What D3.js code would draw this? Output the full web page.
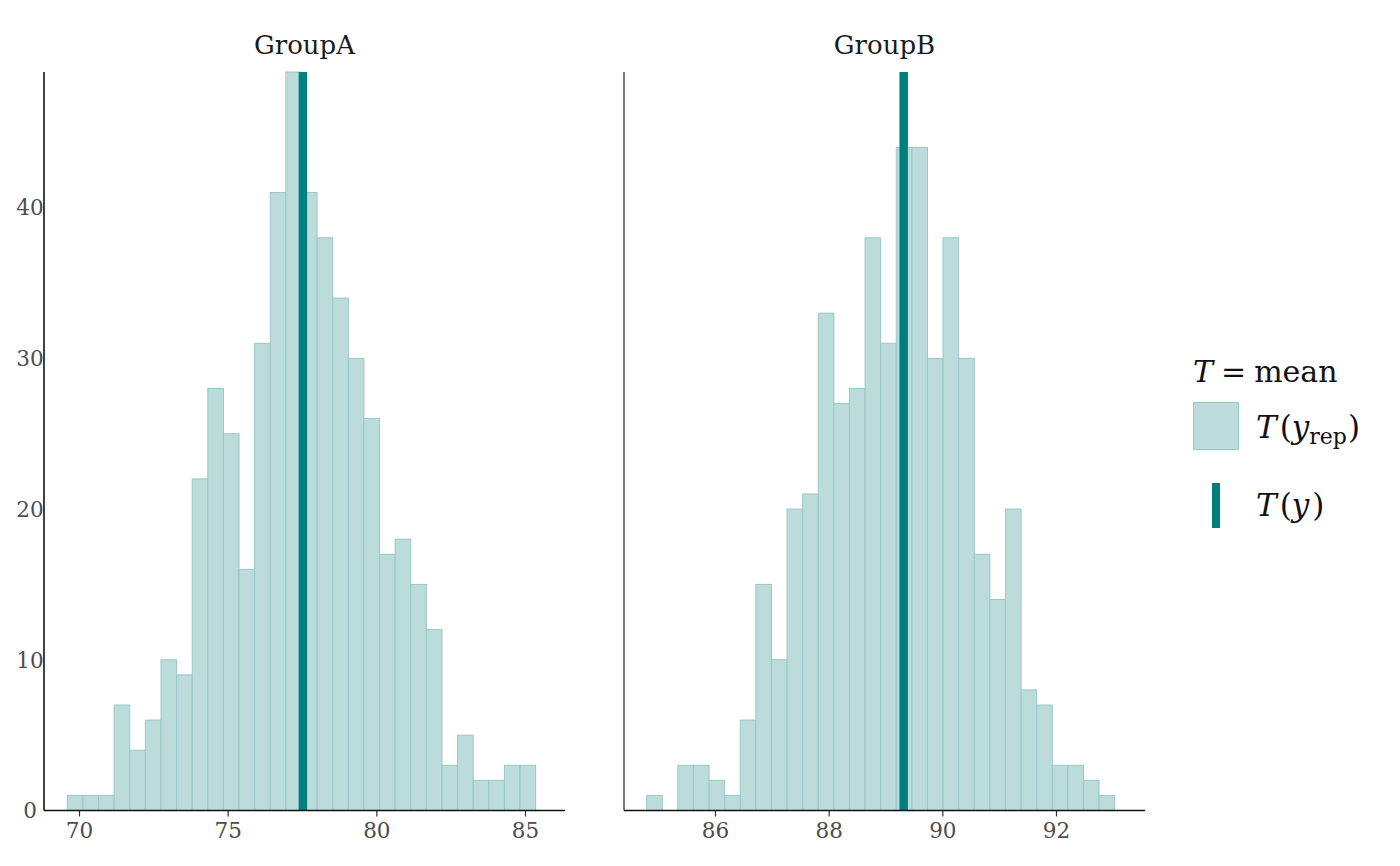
<!DOCTYPE html>
<html>
<head>
<meta charset="utf-8">
<script src="https://cdn.jsdelivr.net/npm/d3@7"></script>
<style>
  body { margin: 0; background: #fff; }
  text { font-family: 'DejaVu Serif', serif; }
</style>
</head>
<body>
<svg id="container" width="1400" height="866"></svg>
<script>
const svg = d3.select('#container')

// data
const groups = ['GroupA', 'GroupB']
const countsA = [1, 1, 1, 7, 4, 6, 10, 9, 22, 28, 25, 16, 31, 41, 49, 41, 38, 34, 30, 26, 17, 18, 15, 12, 3, 5, 2, 2, 3, 3]
const countsB = [1, 0, 3, 3, 2, 1, 6, 15, 10, 20, 21, 33, 27, 28, 38, 31, 44, 44, 30, 38, 30, 17, 14, 20, 8, 7, 3, 3, 2, 1]
const binStart = [69.6075, 84.7977]
const binWidth = [0.525, 0.27449]
const observedMean = [77.53, 89.32]
const xDomains = [[68.823, 86.345], [84.399, 93.566]]
const xTicks = [[70, 75, 80, 85], [86, 88, 90, 92]]
const yTicks = [0, 10, 20, 30, 40]
const yMax = 49

const light = '#bcdcdc'
const lightHi = '#99c7c7'
const dark = '#007f7f'

const panels = [
  { name: groups[0], counts: countsA, left: 44, right: 565 },
  { name: groups[1], counts: countsB, left: 624, right: 1145 }
]
const panelTop = 72
const panelBottom = 810.5

const yScale = d3.scaleLinear().domain([0, yMax]).range([panelBottom, panelTop])

panels.forEach((p, i) => {
  const xScale = d3.scaleLinear().domain(xDomains[i]).range([p.left, p.right])
  const bins = p.counts.map((c, j) => ({
    x0: binStart[i] + j * binWidth[i],
    x1: binStart[i] + (j + 1) * binWidth[i],
    n: c
  }))
  const g = svg.append('g')

  g.selectAll('rect')
    .data(bins.filter((d) => d.n > 0))
    .enter()
    .append('rect')
    .attr('x', (d) => xScale(d.x0))
    .attr('y', (d) => yScale(d.n))
    .attr('width', (d) => xScale(d.x1) - xScale(d.x0))
    .attr('height', (d) => panelBottom - yScale(d.n))
    .style('fill', light)
    .style('stroke', lightHi)
    .style('stroke-width', 1)

  g.append('line')
    .attr('x1', xScale(observedMean[i]))
    .attr('x2', xScale(observedMean[i]))
    .attr('y1', panelTop)
    .attr('y2', panelBottom)
    .style('stroke', dark)
    .style('stroke-width', 8.5)

  const xAxis = d3.axisBottom(xScale).tickValues(xTicks[i]).tickSize(6).tickPadding(6)
  const xg = g.append('g')
    .attr('transform', `translate(0,${panelBottom})`)
    .call(xAxis)
  xg.select('.domain').remove()
  xg.selectAll('.tick line').style('stroke', '#333').style('stroke-width', 1.2)
  xg.selectAll('.tick text')
    .style('font-family', 'DejaVu Serif')
    .style('font-size', '21.5px')
    .style('fill', '#4d4d4d')

  // axis lines
  g.append('line')
    .attr('x1', p.left).attr('x2', p.right)
    .attr('y1', panelBottom).attr('y2', panelBottom)
    .style('stroke', '#111').style('stroke-width', 1.6)
  g.append('line')
    .attr('x1', p.left).attr('x2', p.left)
    .attr('y1', panelTop).attr('y2', panelBottom)
    .style('stroke', '#111').style('stroke-width', i === 0 ? 1.6 : 1.1)

  // strip label
  g.append('text')
    .attr('x', (p.left + p.right) / 2)
    .attr('y', 54)
    .attr('text-anchor', 'middle')
    .style('font-size', '26px')
    .style('fill', '#1a1a1a')
    .text(p.name)
})

// y tick labels (left panel only)
svg.append('g')
  .selectAll('text')
  .data(yTicks)
  .enter()
  .append('text')
  .attr('x', 30)
  .attr('y', (d) => yScale(d))
  .attr('dy', '0.36em')
  .attr('text-anchor', 'middle')
  .style('font-size', '21.5px')
  .style('fill', '#4d4d4d')
  .text((d) => d)

// legend
const legend = svg.append('g')
const title = legend.append('text')
  .attr('x', 1193)
  .attr('y', 382)
  .style('font-size', '30px')
  .style('fill', '#111')
title.append('tspan').style('font-style', 'italic').text('T')
title.append('tspan').attr('dx', 8).text('=')
title.append('tspan').attr('dx', 8).text('mean')

legend.append('rect')
  .attr('x', 1193.5).attr('y', 402.5)
  .attr('width', 45).attr('height', 47)
  .style('fill', light).style('stroke', lightHi).style('stroke-width', 1)

legend.append('rect')
  .attr('x', 1212).attr('y', 483)
  .attr('width', 8).attr('height', 45)
  .style('fill', dark)

const l1 = legend.append('text')
  .attr('x', 1256).attr('y', 438)
  .style('font-size', '31px').style('fill', '#111')
l1.append('tspan').style('font-style', 'italic').text('T')
l1.append('tspan').attr('dx', 3).text('(')
l1.append('tspan').style('font-style', 'italic').text('y')
l1.append('tspan').attr('dy', 6).style('font-size', '22px').text('rep')
l1.append('tspan').attr('dy', -6).attr('dx', 1).text(')')

const l2 = legend.append('text')
  .attr('x', 1256).attr('y', 516)
  .style('font-size', '31px').style('fill', '#111')
l2.append('tspan').style('font-style', 'italic').text('T')
l2.append('tspan').attr('dx', 3).text('(')
l2.append('tspan').style('font-style', 'italic').text('y')
l2.append('tspan').attr('dx', 3).text(')')
</script>
</body>
</html>
